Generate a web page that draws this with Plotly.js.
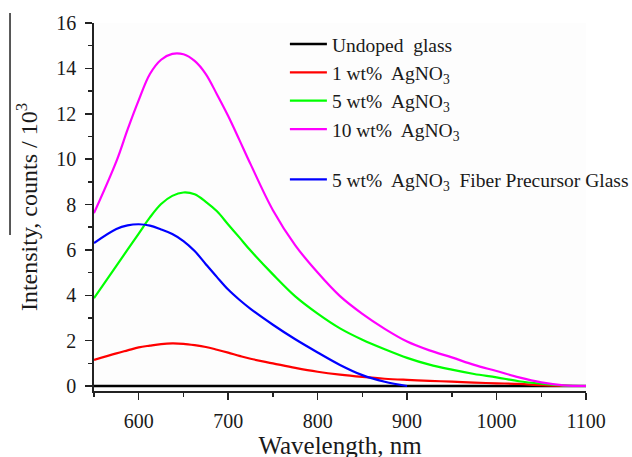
<!DOCTYPE html>
<html>
<head>
<meta charset="utf-8">
<script src="https://cdn.plot.ly/plotly-3.0.1.min.js"></script>
<style>html,body{margin:0;padding:0;background:#fff;overflow:hidden;width:632px;height:457px;}#chart{width:632px;height:470px;}</style>
</head>
<body>
<div id="chart"></div>
<script>
// Wavelength grid (nm)
var wavelength = [550, 575, 587.5, 600, 612.5, 625, 637.5, 650, 662.5, 675, 687.5, 700, 712.5, 725, 750, 775, 800, 825, 850, 875, 900, 925, 950, 975, 1000, 1025, 1050, 1075, 1100];

// Intensity, counts / 10^3
var undoped  = [0, 0, 0, 0, 0, 0, 0, 0, 0, 0, 0, 0, 0, 0, 0, 0, 0, 0, 0, 0, 0, 0, 0, 0, 0, 0, 0, 0, 0];
var wt1      = [1.15, 1.44, 1.57, 1.70, 1.78, 1.85, 1.88, 1.86, 1.80, 1.72, 1.60, 1.47, 1.33, 1.20, 1.00, 0.80, 0.63, 0.50, 0.40, 0.32, 0.27, 0.23, 0.19, 0.15, 0.12, 0.09, 0.04, 0.01, 0.00];
var wt5      = [3.87, 5.30, 6.01, 6.72, 7.43, 8.02, 8.38, 8.53, 8.45, 8.12, 7.70, 7.12, 6.55, 5.97, 4.92, 3.95, 3.19, 2.54, 2.04, 1.62, 1.24, 0.94, 0.72, 0.53, 0.38, 0.21, 0.10, 0.02, 0.00];
var wt10     = [7.62, 9.90, 11.30, 12.60, 13.75, 14.38, 14.64, 14.62, 14.33, 13.75, 12.85, 11.90, 10.85, 9.78, 7.75, 6.20, 5.00, 3.96, 3.18, 2.52, 1.96, 1.57, 1.26, 0.93, 0.66, 0.38, 0.16, 0.03, 0.00];
var wt5fiber = [6.30, 6.92, 7.08, 7.13, 7.07, 6.90, 6.70, 6.39, 5.95, 5.37, 4.80, 4.25, 3.80, 3.40, 2.70, 2.06, 1.48, 0.93, 0.48, 0.19, 0.00, null, null, null, null, null, null, null, null];

var seriesNames = [
  "Undoped\u00a0 glass",
  "1 wt%\u00a0 AgNO<sub>3</sub>",
  "5 wt%\u00a0 AgNO<sub>3</sub>",
  "10 wt%\u00a0 AgNO<sub>3</sub>",
  "5 wt%\u00a0 AgNO<sub>3</sub>\u00a0 Fiber Precursor Glass"
];
var seriesColors = ["#000000", "#ff0000", "#00ff00", "#ff00ff", "#0000ff"];
var seriesValues = [undoped, wt1, wt5, wt10, wt5fiber];
var groups = ["a", "a", "a", "a", "b"];

var traces = seriesValues.map(function (vals, i) {
  return {
    x: wavelength,
    y: vals,
    type: "scatter",
    mode: "lines",
    name: seriesNames[i],
    legendgroup: groups[i],
    line: {color: seriesColors[i], width: i === 0 ? 2.6 : 2.2, shape: "spline", smoothing: 1},
    connectgaps: false
  };
});

var serif = "Liberation Serif, Times New Roman, serif";

var layout = {
  width: 632,
  height: 470,
  margin: {l: 94, r: 46, t: 23, b: 79, pad: 0, autoexpand: false},
  paper_bgcolor: "#ffffff",
  plot_bgcolor: "#fdfdfd",
  font: {family: serif, color: "#1a1a1a", size: 20},
  showlegend: true,
  legend: {
    x: 0.388, y: 0.995, xanchor: "left", yanchor: "top",
    bgcolor: "rgba(0,0,0,0)",
    font: {family: serif, size: 19.5, color: "#1a1a1a"},
    itemwidth: 37,
    tracegroupgap: 22,
    traceorder: "grouped"
  },
  xaxis: {
    range: [550, 1100],
    tickmode: "linear", tick0: 600, dtick: 100,
    ticks: "outside", ticklen: 7, tickwidth: 1.5, tickcolor: "#222",
    minor: {dtick: 50, tick0: 550, ticks: "outside", ticklen: 4, tickwidth: 1.5, tickcolor: "#222", showgrid: false},
    showline: true, linecolor: "#222", linewidth: 1.8,
    showgrid: false, zeroline: false, mirror: false,
    ticklabelstandoff: 4,
    tickfont: {family: serif, size: 20, color: "#1a1a1a"},
    title: {text: "Wavelength, nm", font: {family: serif, size: 25, color: "#1a1a1a"}, standoff: 4},
    automargin: false
  },
  yaxis: {
    range: [-0.22, 16],
    tickmode: "linear", tick0: 0, dtick: 2,
    ticks: "outside", ticklen: 7, tickwidth: 1.5, tickcolor: "#222",
    minor: {dtick: 1, tick0: 0, ticks: "outside", ticklen: 4, tickwidth: 1.5, tickcolor: "#222", showgrid: false},
    showline: true, linecolor: "#222", linewidth: 1.8,
    showgrid: false, zeroline: false, mirror: false,
    ticklabelstandoff: 5,
    tickfont: {family: serif, size: 20, color: "#1a1a1a"},
    title: {text: "Intensity, counts / 10<sup>3</sup>", font: {family: serif, size: 24, color: "#1a1a1a"}, standoff: 12},
    automargin: false
  },
  shapes: [
    {type: "line", xref: "paper", yref: "paper", x0: -0.1707, x1: -0.1707, y0: 1.027, y1: 0.424,
     line: {color: "#222", width: 1.5}}
  ]
};

Plotly.newPlot("chart", traces, layout, {displayModeBar: false, staticPlot: true});
</script>
</body>
</html>
